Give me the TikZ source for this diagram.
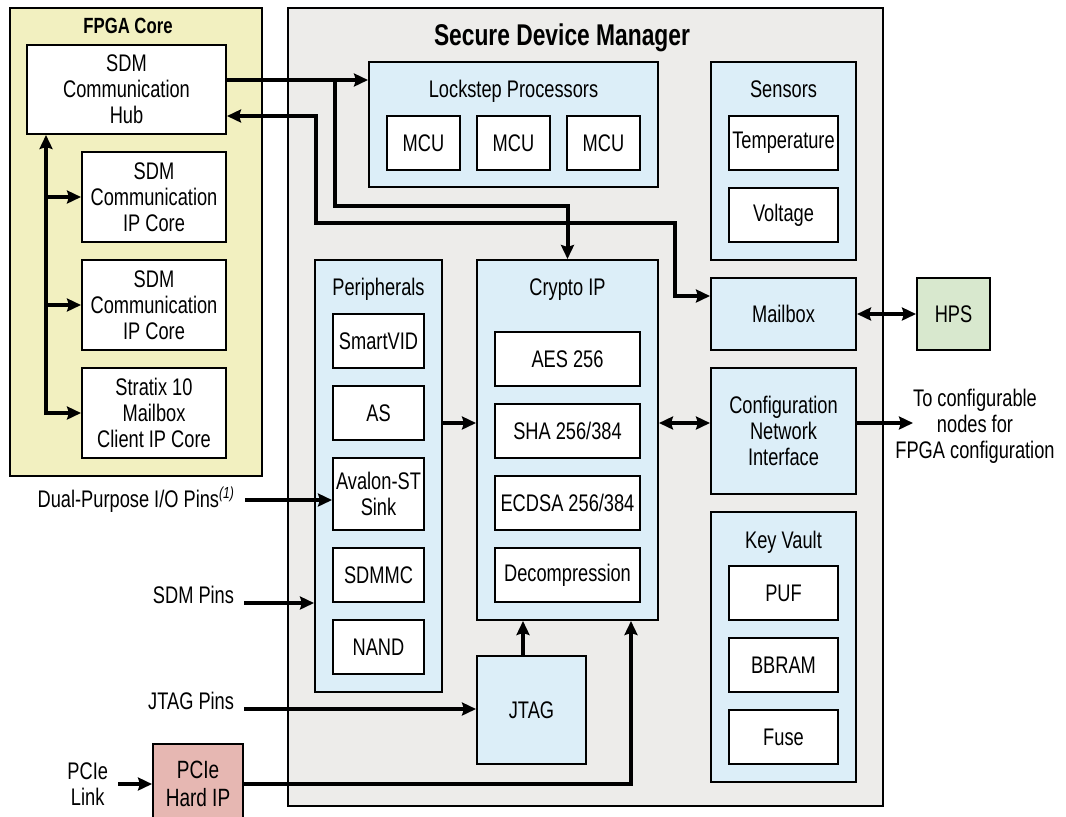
\documentclass[tikz,border=0pt]{standalone}
\usepackage{fontspec}
\setmainfont{Liberation Sans}[FakeStretch=0.76]
\usetikzlibrary{arrows.meta}
\definecolor{fpgabg}{HTML}{F2F0C0}
\definecolor{sdmbg}{HTML}{EDECEA}
\definecolor{blockbg}{HTML}{DCEEF8}
\definecolor{hpsbg}{HTML}{D8E8CE}
\definecolor{pciebg}{HTML}{E6B7B2}

\begin{document}
\begin{tikzpicture}[x=0.5pt, y=-0.5pt,
  font=\fontsize{12}{13}\selectfont,
  >={Stealth[length=7pt,width=6.5pt,inset=1pt]},
  box/.style 2 args={draw, line width=1pt, align=center, inner sep=0pt,
    minimum width=#1*0.5pt, minimum height=#2*0.5pt},
  part/.style={fill=white},
  blockgrp/.style={fill=blockbg},
  grouptitle/.style={anchor=base, inner sep=0pt},
  boldtitle/.style={grouptitle, font=\fontsize{11}{13}\selectfont\bfseries},
  pinlabel/.style={inner sep=0pt, outer sep=5pt, align=center},
  wire/.style={line width=2pt, ->},
  biwire/.style={line width=2pt, <->}]
  \useasboundingbox (0,0) rectangle (1066,816);

  \node[box={252}{468}, fill=fpgabg] (fpga) at (136,242) {};
  \node[boldtitle] at (128,33.5) {FPGA Core};
  \node[box={595}{798}, fill=sdmbg] (sdm) at (585.5,407) {};
  \node[grouptitle, font=\fontsize{15}{17}\selectfont\bfseries] at (562,45) {Secure Device Manager};

  \node[box={199}{89}, part] (hub) at (126.5,89.5) {SDM\\Communication\\Hub};
  \node[box={144}{90}, part] (ipa) at (154,197) {SDM\\Communication\\IP Core};
  \node[box={144}{90}, part] (ipb) at (154,305) {SDM\\Communication\\IP Core};
  \node[box={144}{90}, part] (mbc) at (154,413) {Stratix 10\\Mailbox\\Client IP Core};

  \node[box={289}{125}, blockgrp] (lock) at (513.5,124.5) {};
  \node[grouptitle] at (513.5,97) {Lockstep Processors};
  \foreach \i/\x in {1/423.5,2/513.5,3/603.5}
    \node[box={73}{54}, part] (mcu\i) at (\x,143) {MCU};

  \node[box={145}{198}, blockgrp] (sens) at (783.5,161) {};
  \node[grouptitle] at (783.5,97) {Sensors};
  \node[box={109}{54}, part] (temp) at (783.5,143) {Temperature};
  \node[box={109}{54}, part] (volt) at (783.5,215) {Voltage};

  \node[box={145}{72}, blockgrp] (mail) at (783.5,314) {Mailbox};
  \node[box={73}{72}, fill=hpsbg] (hps) at (953.5,314) {HPS};
  \node[box={145}{126}, blockgrp] (cni) at (783.5,431) {Configuration\\Network\\Interface};

  \node[box={145}{270}, blockgrp] (vault) at (783.5,647) {};
  \node[grouptitle] at (783.5,548) {Key Vault};
  \node[box={109}{54}, part] (puf) at (783.5,593) {PUF};
  \node[box={109}{54}, part] (bbram) at (783.5,665) {BBRAM};
  \node[box={109}{54}, part] (fuse) at (783.5,737) {Fuse};

  \node[box={127}{432}, blockgrp] (per) at (378.5,476) {};
  \node[grouptitle] at (378.5,295) {Peripherals};
  \foreach \n/\y/\h/\t in {svid/341/54/SmartVID, as/413/54/AS, avst/494/72/{Avalon-ST\\Sink},
      sdmmc/575/54/SDMMC, nand/647/54/NAND}
    \node[box={91}{\h}, part] (\n) at (378.5,\y) {\t};

  \node[box={181}{360}, blockgrp] (crypto) at (567.5,440) {};
  \node[grouptitle] at (567.5,295) {Crypto IP};
  \node[box={145}{54}, part] (aes) at (567.5,359) {AES 256};
  \node[box={145}{54}, part] (sha) at (567.5,431) {SHA 256/384};
  \node[box={145}{54}, part] (ecdsa) at (567.5,503) {ECDSA 256/384};
  \node[box={145}{54}, part] (dec) at (567.5,575) {Decompression};

  \node[box={109}{108}, blockgrp] (jtag) at (531.5,710) {JTAG};
  \node[box={90}{80}, fill=pciebg, font=\fontsize{12.5}{14}\selectfont] (pcie) at (198,784) {PCIe\\Hard IP};

  \node[pinlabel, anchor=east] (dual) at (245,500) {Dual-Purpose I/O Pins\textsuperscript{\itshape(1)}};
  \node[pinlabel, anchor=base east] (sdmpin) at (244,603) {SDM Pins};
  \node[pinlabel, anchor=base east] (jtagpin) at (244,709) {JTAG Pins};
  \node[pinlabel, anchor=east] (link) at (118,784) {PCIe\\Link};
  \node[align=center, inner sep=0pt] (cfgtext) at (975,426) {To configurable\\nodes for\\FPGA configuration};

  \coordinate (bus) at (46,413);
  \coordinate (split) at (335,80);
  \coordinate (mid) at (0,423);
  \coordinate (cfgend) at (913,423);
  \coordinate (jt) at ([xshift=-4.25pt]jtag.north);

  \draw[wire] ([yshift=-1pt]bus) -- (bus |- hub.south);
  \foreach \n in {ipa,ipb,mbc}
    \draw[wire] (bus |- \n.west) -- (\n.west);
  \draw[wire] (hub.east |- split) -- (lock.west |- split);
  \draw[wire] (split) -- ++(0,126) -| (crypto.north);
  \draw[biwire] ([yshift=9pt]mail.west) -- ++(-35,0) |- (316,223) |- ([yshift=-13.25pt]hub.east);
  \draw[wire] (per.east |- mid) -- (crypto.west |- mid);
  \draw[biwire] (crypto.east |- mid) -- (cni.west |- mid);
  \draw[wire] (cni.east |- mid) -- (cfgend);
  \draw[biwire] (mail.east) -- (hps.west);
  \draw[wire] (dual.east) -- (avst.west |- dual.east);
  \draw[wire] (sdmpin.base east) -- (per.west |- sdmpin.base east);
  \draw[wire] (jtagpin.base east) -- (jtag.west |- jtagpin.base east);
  \draw[wire] (link.east) -- (pcie.west);
  \draw[wire] (pcie.east) -| ([xshift=31.75pt]crypto.south);
  \draw[wire] (jt) -- (jt |- crypto.south);
\end{tikzpicture}
\end{document}
